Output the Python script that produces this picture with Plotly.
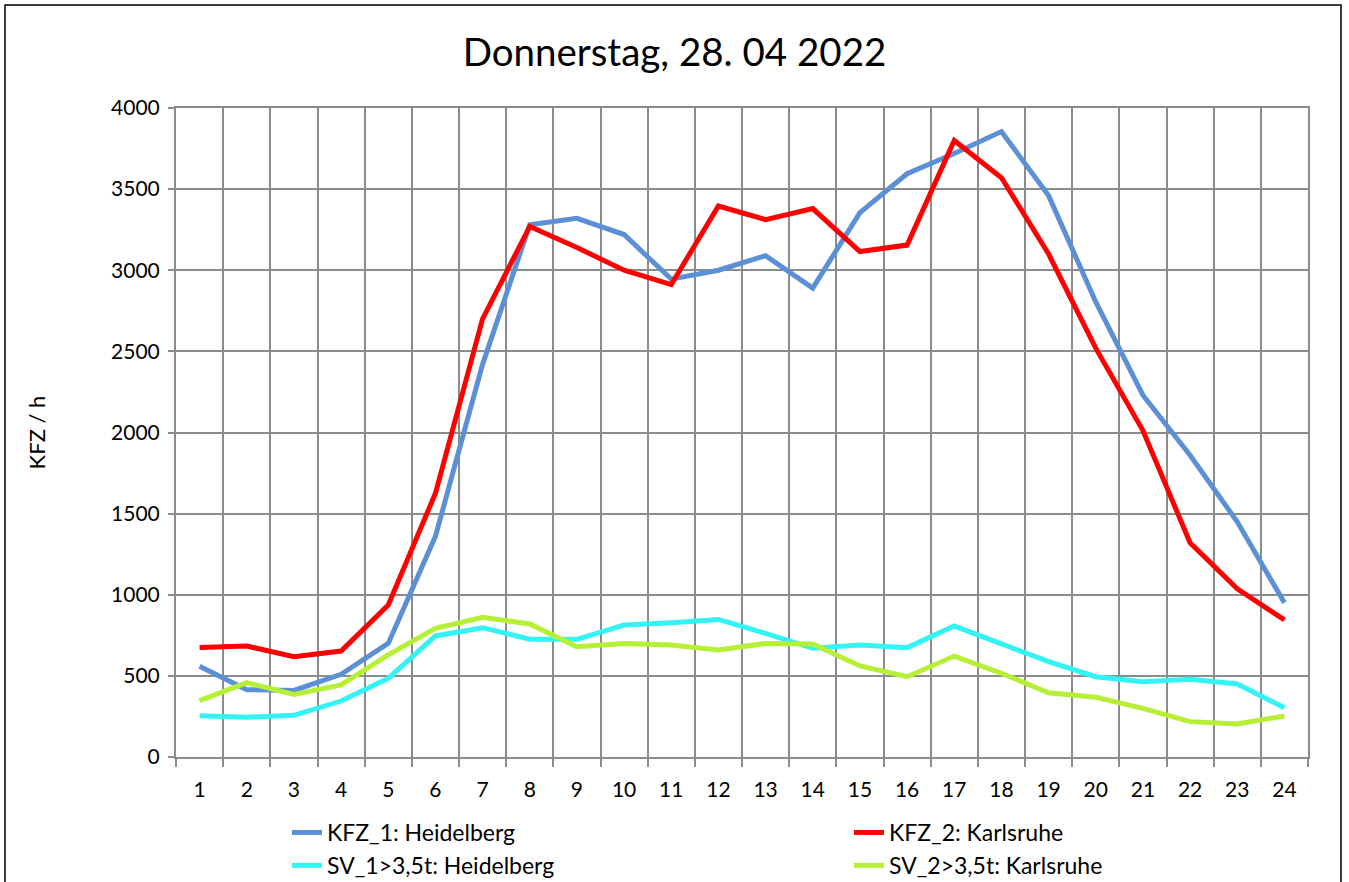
import plotly.graph_objects as go

hours = list(range(1, 25))
kfz_1_heidelberg = [560, 415, 410, 510, 700, 1360, 2420, 3280, 3320, 3220, 2945, 3000, 3090, 2890,
                    3355, 3595, 3720, 3855, 3460, 2805, 2230, 1860, 1450, 950]
kfz_2_karlsruhe = [675, 684, 618, 653, 937, 1625, 2700, 3270, 3140, 3000, 2912, 3396, 3312, 3380,
                   3115, 3155, 3800, 3570, 3100, 2520, 2012, 1320, 1036, 845]
sv_1_heidelberg = [255, 245, 257, 345, 485, 746, 797, 726, 725, 813, 828, 848, 762, 670,
                   690, 674, 807, 696, 588, 495, 464, 479, 450, 304]
sv_2_karlsruhe = [347, 458, 386, 444, 629, 793, 861, 820, 680, 700, 690, 659, 700, 696,
                  561, 495, 622, 516, 396, 368, 300, 218, 203, 253]

series = [
    ("KFZ_1: Heidelberg", kfz_1_heidelberg, "#5B8FD6", "legend"),
    ("KFZ_2: Karlsruhe", kfz_2_karlsruhe, "#FF0000", "legend2"),
    ("SV_1>3,5t: Heidelberg", sv_1_heidelberg, "#33F3F5", "legend"),
    ("SV_2>3,5t: Karlsruhe", sv_2_karlsruhe, "#B5EF36", "legend2"),
]

FONT = "Lato"
GRID = "#8C8C8C"

fig = go.Figure()
for name, vals, col, leg in series:
    fig.add_trace(go.Scatter(x=hours, y=vals, mode="lines", name=name, legend=leg,
                             line=dict(color=col, width=5)))

W, H = 1349, 882
L, R, T, B = 176, 41, 108, 125
pw, ph = W - L - R, H - T - B
plot_bottom = T + ph

def px_x(px):
    return (px - L) / pw

def px_y(py):
    return (plot_bottom - py) / ph

legend_common = dict(orientation="v", xanchor="left", yanchor="top",
                     y=px_y(811), font=dict(size=23, family=FONT),
                     tracegroupgap=0, bgcolor="rgba(0,0,0,0)", traceorder="normal")

fig.update_layout(
    width=W, height=H,
    margin=dict(l=L, r=R, t=T, b=B, autoexpand=False),
    paper_bgcolor="white", plot_bgcolor="white",
    font=dict(family=FONT, color="black"),
    title=dict(text="Donnerstag, 28. 04 2022", x=0.5, xanchor="center",
               y=1 - 53 / H, yanchor="middle", font=dict(size=38.5, family=FONT)),
    showlegend=True,
    legend=dict(x=px_x(287), **legend_common),
    legend2=dict(x=px_x(849), **legend_common),
    xaxis=dict(range=[0.5, 24.5], tickmode="array", tickvals=hours,
               ticktext=[str(h) for h in hours], ticks="", showgrid=False,
               tickfont=dict(size=21), showline=True, linecolor=GRID, linewidth=2,
               mirror=True, zeroline=False, ticklabelstandoff=13,
               minor=dict(tick0=0.5, dtick=1, showgrid=True, gridcolor=GRID,
                          gridwidth=2, ticks="outside", ticklen=8, tickcolor=GRID,
                          tickwidth=2)),
    yaxis=dict(range=[0, 4000], tickmode="linear", tick0=0, dtick=500,
               showgrid=True, gridcolor=GRID, gridwidth=2, ticks="outside",
               ticklen=6, tickcolor=GRID, tickwidth=2, tickfont=dict(size=21),
               showline=True, linecolor=GRID, linewidth=2, mirror=True,
               zeroline=False, ticklabelstandoff=4,
               title=dict(text="KFZ / h", font=dict(size=22), standoff=59)),
    shapes=[dict(type="rect", xref="paper", yref="paper",
                 x0=px_x(5), x1=px_x(1341),
                 y0=px_y(895), y1=px_y(5),
                 line=dict(color="black", width=1.5), fillcolor="rgba(0,0,0,0)",
                 layer="below")],
)

fig.write_html("out.html", config={"displayModeBar": False},
               post_script="document.body.style.margin='0';document.body.style.overflow='hidden';")
